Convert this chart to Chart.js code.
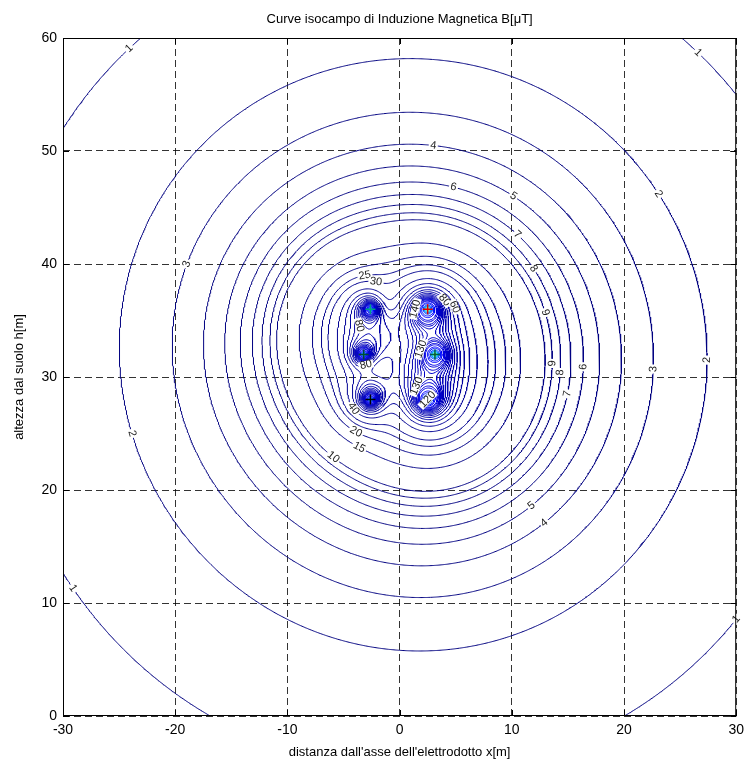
<!DOCTYPE html>
<html>
<head>
<meta charset="utf-8">
<title>Curve isocampo</title>
<script src="https://cdn.jsdelivr.net/npm/chart.js@4.4.0/dist/chart.umd.min.js"></script>
<style>
  html, body { margin: 0; padding: 0; background: #fff; }
  #wrap { width: 750px; height: 765px; }
</style>
</head>
<body>
<div id="wrap"><canvas id="chart" width="750" height="765"></canvas></div>
<script>
// double circuit line: left circuit (3 phases) and right circuit (3 phases)
const condX = [-2.6, -3.2, -2.6, 2.5, 3.15, 2.5];
const condY = [36, 32, 28, 36, 32, 28];
const condCurrent = [397, 397, 397, 794, 794, 794];      // A rms
const condPhase = [0, -120, 120, 75, -45, 195];          // degrees
const condMarkColor = ['#00a080', '#004a30', '#000000', '#e00000', '#006040', '#000000'];

// iso-field levels in microtesla
const levels = [1, 2, 3, 4, 5, 6, 7, 8, 9, 10, 15, 20, 25, 30, 40, 50, 60, 70, 80, 90,
  100, 110, 120, 130, 140, 150, 160, 180, 200, 250, 300, 400, 500, 600, 800, 1000, 1500, 2000];

const xTicks = [-30, -20, -10, 0, 10, 20, 30];
const yTicks = [0, 10, 20, 30, 40, 50, 60];

// where the inline contour labels sit: [level, x, y]
const labelSpots = [
  [1, -22.5, 57.3], [1, 25.4, 57.5], [1, -29.3, 11.2], [1, 29.5, 10.5],
  [2, 22.9, 46.1], [2, 27, 31.5], [2, -24, 25],
  [3, -18, 39.6], [3, 22.3, 30.7],
  [4, 3, 50.5], [4, 12.5, 17.6],
  [5, 10.1, 45.9], [5, 11, 19.5],
  [6, 4.8, 46.8], [6, 16, 30.9],
  [7, 10.5, 42.6], [7, 14.5, 28.6],
  [8, 11.7, 39.4], [8, 13.9, 30.4],
  [9, 12.9, 35.7], [9, 13.3, 31.2],
  [10, -6.3, 22.4], [15, -3.8, 23.3], [20, -4.2, 24.6], [25, -3.1, 39.1], [30, -2, 38.8],
  [40, -4.3, 27.1], [80, -2.7, 34.8], [80, -2.9, 30.9], [80, 4.2, 37], [60, 4.8, 36.1],
  [130, 1.5, 32.6], [130, 1.7, 29.1], [120, 2.4, 27.7], [140, 1.2, 36.1]
];

// ---- field of the line on a grid (Biot-Savart, 0.2 uT*m/A) ----
const X0 = -30, Y0 = 0, H = 0.1, NX = 601, NY = 601;
const field = new Float64Array(NX * NY);
const cr = condPhase.map((p, k) => condCurrent[k] * Math.cos(p * Math.PI / 180));
const ci = condPhase.map((p, k) => condCurrent[k] * Math.sin(p * Math.PI / 180));
for (let j = 0; j < NY; j++) {
  const y = Y0 + j * H;
  for (let i = 0; i < NX; i++) {
    const x = X0 + i * H;
    let bxr = 0, bxi = 0, byr = 0, byi = 0;
    for (let k = 0; k < condX.length; k++) {
      const dx = x - condX[k], dy = y - condY[k];
      const f = 0.2 / Math.max(dx * dx + dy * dy, 1e-4);
      bxr -= f * dy * cr[k]; bxi -= f * dy * ci[k];
      byr += f * dx * cr[k]; byi += f * dx * ci[k];
    }
    field[j * NX + i] = Math.sqrt(bxr * bxr + bxi * bxi + byr * byr + byi * byi);
  }
}

// marching squares, segments chained into polylines
function traceLevel(L) {
  const pts = new Map(), adj = new Map(), segs = [];
  const edgePt = (e, ax, ay, va, bx, by, vb) => {
    if (!pts.has(e)) {
      const t = (L - va) / (vb - va);
      pts.set(e, { x: ax + (bx - ax) * t, y: ay + (by - ay) * t });
    }
    return e;
  };
  const link = (a, b) => {
    segs.push([a, b]);
    const s = segs.length - 1;
    if (!adj.has(a)) adj.set(a, []);
    if (!adj.has(b)) adj.set(b, []);
    adj.get(a).push(s); adj.get(b).push(s);
  };
  for (let j = 0; j < NY - 1; j++) {
    for (let i = 0; i < NX - 1; i++) {
      const v00 = field[j * NX + i], v10 = field[j * NX + i + 1];
      const v01 = field[(j + 1) * NX + i], v11 = field[(j + 1) * NX + i + 1];
      const idx = (v00 > L ? 1 : 0) | (v10 > L ? 2 : 0) | (v11 > L ? 4 : 0) | (v01 > L ? 8 : 0);
      if (idx === 0 || idx === 15) continue;
      const x = X0 + i * H, y = Y0 + j * H;
      const e = [];
      const h0 = 2 * (j * NX + i), h2 = 2 * ((j + 1) * NX + i);
      const v1 = 2 * (j * NX + i + 1) + 1, v3 = 2 * (j * NX + i) + 1;
      if ((idx & 1) !== ((idx >> 1) & 1)) e[0] = edgePt(h0, x, y, v00, x + H, y, v10);
      if (((idx >> 1) & 1) !== ((idx >> 2) & 1)) e[1] = edgePt(v1, x + H, y, v10, x + H, y + H, v11);
      if (((idx >> 2) & 1) !== ((idx >> 3) & 1)) e[2] = edgePt(h2, x, y + H, v01, x + H, y + H, v11);
      if (((idx >> 3) & 1) !== (idx & 1)) e[3] = edgePt(v3, x, y, v00, x, y + H, v01);
      if (idx === 5 || idx === 10) {
        const hiCenter = (v00 + v10 + v01 + v11) / 4 > L;
        if ((idx === 5) === hiCenter) { link(e[0], e[1]); link(e[2], e[3]); }
        else { link(e[3], e[0]); link(e[1], e[2]); }
      } else {
        const found = e.map((v, n) => v === undefined ? -1 : n).filter(n => n >= 0);
        link(e[found[0]], e[found[1]]);
      }
    }
  }
  const used = new Uint8Array(segs.length);
  const walk = start => {
    const line = [pts.get(start)];
    let cur = start;
    for (;;) {
      let next = -1;
      for (const s of adj.get(cur)) if (!used[s]) { next = s; break; }
      if (next < 0) break;
      used[next] = 1;
      cur = segs[next][0] === cur ? segs[next][1] : segs[next][0];
      line.push(pts.get(cur));
    }
    return line;
  };
  const lines = [];
  for (const [e, list] of adj) if (list.length === 1 && !used[list[0]]) lines.push(walk(e));
  for (let s = 0; s < segs.length; s++) if (!used[s]) lines.push(walk(segs[s][0]));
  return lines;
}

// MATLAB-like jet colour for a level
function jet(v) {
  const t = (v - levels[0]) / (levels[levels.length - 1] - levels[0]);
  const c = a => Math.round(255 * Math.min(1, Math.max(0, 1.5 - Math.abs(4 * t - a))));
  return `rgb(${c(3)},${c(2)},${c(1)})`;
}

const contourLines = {};
const datasets = [{
  label: 'conduttori',
  data: condX.map((x, k) => ({ x, y: condY[k] })),
  showLine: false,
  pointStyle: 'cross',
  pointRadius: 5,
  borderWidth: 1.5,
  borderColor: condMarkColor,
  order: 0
}];
levels.forEach(L => {
  const lines = traceLevel(L);
  contourLines[L] = lines;
  lines.forEach(line => {
    datasets.push({
      label: 'B = ' + L,
      data: line,
      showLine: true,
      pointRadius: 0,
      borderWidth: 1,
      borderColor: jet(L),
      order: 1
    });
  });
});

const FONT = "'Liberation Sans', Arial, Helvetica, sans-serif";

// frame, inner ticks, title and contour labels
const decorations = {
  id: 'decorations',
  afterDatasetsDraw(chart) {
    const { ctx, chartArea: a, scales: { x: sx, y: sy } } = chart;
    ctx.save();

    // inline labels on the iso-lines
    ctx.font = '11px ' + FONT;
    ctx.textAlign = 'center';
    ctx.textBaseline = 'middle';
    labelSpots.forEach(([L, lx, ly]) => {
      const lines = contourLines[L] || [];
      let best = null, bestD = 9;
      lines.forEach(line => line.forEach((p, n) => {
        const d = (p.x - lx) ** 2 + (p.y - ly) ** 2;
        if (d < bestD) { bestD = d; best = { line, n }; }
      }));
      if (!best) return;
      const { line, n } = best;
      const p0 = line[Math.max(0, n - 3)], p1 = line[Math.min(line.length - 1, n + 3)];
      let ang = Math.atan2(sy.getPixelForValue(p1.y) - sy.getPixelForValue(p0.y),
        sx.getPixelForValue(p1.x) - sx.getPixelForValue(p0.x));
      if (ang > Math.PI / 2) ang -= Math.PI;
      if (ang < -Math.PI / 2) ang += Math.PI;
      const px = sx.getPixelForValue(line[n].x), py = sy.getPixelForValue(line[n].y);
      const txt = String(L);
      const w = ctx.measureText(txt).width + 3;
      ctx.save();
      ctx.translate(px, py);
      ctx.rotate(ang);
      ctx.fillStyle = '#fff';
      ctx.fillRect(-w / 2, -4, w, 8);
      ctx.fillStyle = '#222';
      ctx.fillText(txt, 0, 0);
      ctx.restore();
    });

    // axes box and inner tick marks
    ctx.strokeStyle = '#000';
    ctx.lineWidth = 1;
    ctx.strokeRect(a.left + 0.5, a.top + 0.5, a.right - a.left - 1, a.bottom - a.top - 1);
    ctx.beginPath();
    xTicks.forEach(v => {
      const px = Math.round(sx.getPixelForValue(v)) + 0.5;
      ctx.moveTo(px, a.bottom); ctx.lineTo(px, a.bottom - 6);
      ctx.moveTo(px, a.top); ctx.lineTo(px, a.top + 6);
    });
    yTicks.forEach(v => {
      const py = Math.round(sy.getPixelForValue(v)) + 0.5;
      ctx.moveTo(a.left, py); ctx.lineTo(a.left + 6, py);
      ctx.moveTo(a.right, py); ctx.lineTo(a.right - 6, py);
    });
    ctx.stroke();

    ctx.fillStyle = '#000';
    ctx.font = '13px ' + FONT;
    ctx.textAlign = 'center';
    ctx.textBaseline = 'middle';
    ctx.fillText('Curve isocampo di Induzione Magnetica B[\u03bcT]', (a.left + a.right) / 2, 19);
    ctx.restore();
  }
};

new Chart(document.getElementById('chart'), {
  type: 'scatter',
  data: { datasets },
  plugins: [decorations],
  options: {
    responsive: false,
    animation: false,
    devicePixelRatio: 1,
    events: [],
    layout: { padding: { top: 38, right: 10, left: 0, bottom: 0 } },
    plugins: { legend: { display: false }, tooltip: { enabled: false }, title: { display: false } },
    scales: {
      x: {
        type: 'linear', min: -30, max: 30,
        afterFit: s => { s.height = 49; },
        afterBuildTicks: s => { s.ticks = xTicks.map(v => ({ value: v })); },
        ticks: { color: '#000', font: { family: FONT, size: 14 }, padding: 6, maxRotation: 0 },
        grid: { color: 'rgba(0,0,0,0.8)', lineWidth: 1, drawTicks: false },
        border: { display: false, dash: [7, 4] },
        title: { display: true, text: "distanza dall'asse dell'elettrodotto x[m]", color: '#000',
          font: { family: FONT, size: 13 }, padding: { top: 0, bottom: 5 } }
      },
      y: {
        type: 'linear', min: 0, max: 60,
        afterFit: s => { s.width = 63; },
        afterBuildTicks: s => { s.ticks = yTicks.map(v => ({ value: v })); },
        ticks: { color: '#000', font: { family: FONT, size: 14 }, padding: 6 },
        grid: { color: 'rgba(0,0,0,0.8)', lineWidth: 1, drawTicks: false },
        border: { display: false, dash: [7, 4] },
        title: { display: true, text: 'altezza dal suolo h[m]', color: '#000',
          font: { family: FONT, size: 13 }, padding: { top: 12, bottom: 0 } }
      }
    }
  }
});
</script>
</body>
</html>
